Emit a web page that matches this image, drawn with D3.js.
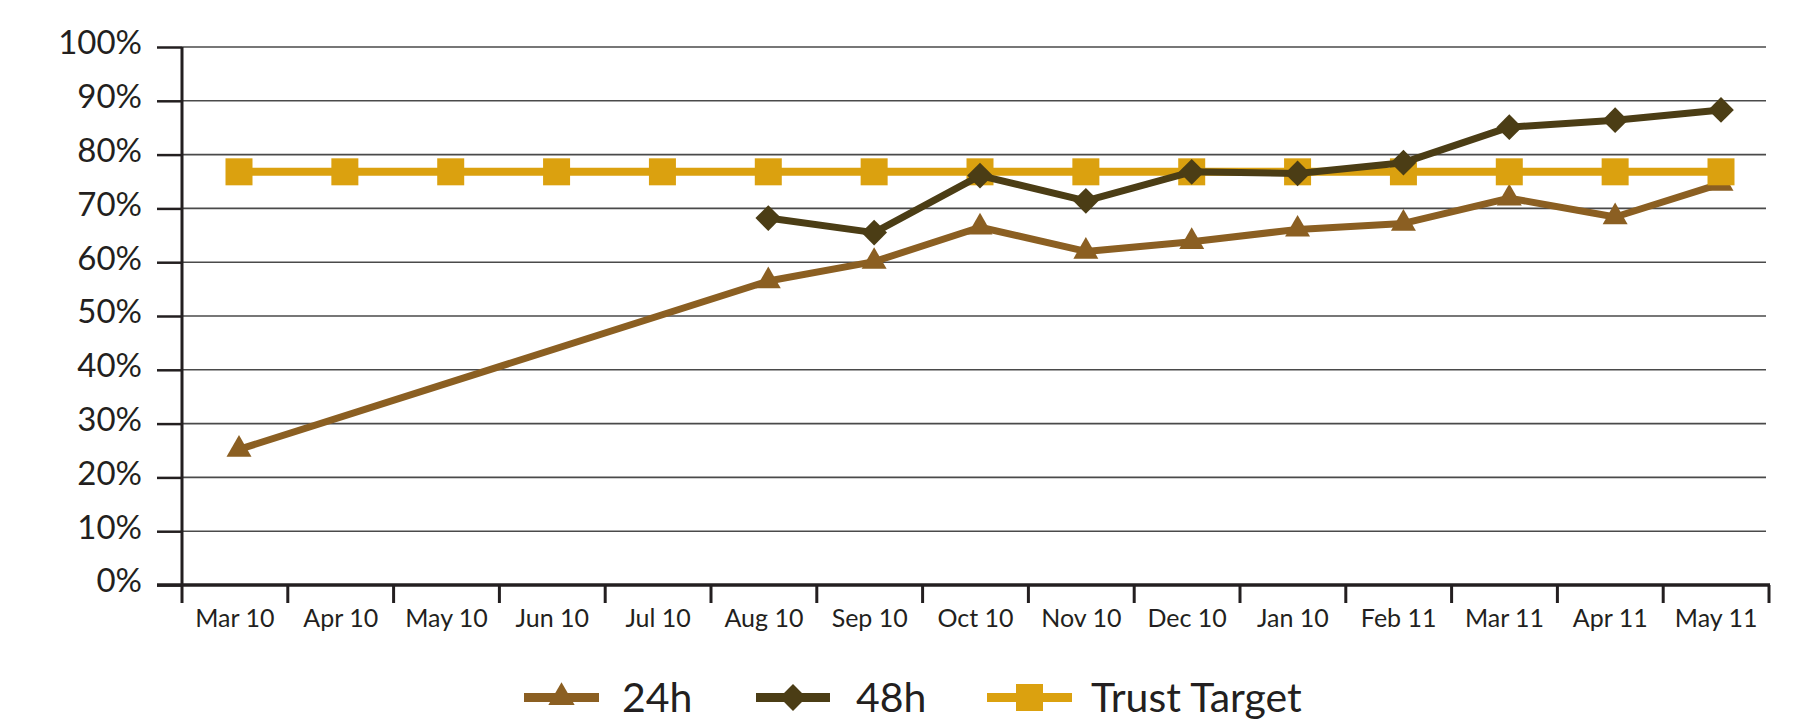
<!DOCTYPE html>
<html>
<head>
<meta charset="utf-8">
<script src="https://cdn.jsdelivr.net/npm/d3@7"></script>
<style>
  html, body { margin: 0; padding: 0; background: #fff; }
  svg { display: block; font-family: Lato, "Open Sans", sans-serif; }
</style>
</head>
<body>
<svg id="chart" width="1800" height="727"></svg>
<script>
const categories = ["Mar 10","Apr 10","May 10","Jun 10","Jul 10","Aug 10","Sep 10","Oct 10","Nov 10","Dec 10","Jan 10","Feb 11","Mar 11","Apr 11","May 11"];
const series24h = [25.2, null, null, null, null, 56.5, 60.1, 66.5, 62.0, 63.8, 66.1, 67.2, 71.9, 68.4, 74.6];
const series48h = [null, null, null, null, null, 68.2, 65.5, 76.1, 71.4, 76.8, 76.5, 78.5, 85.1, 86.4, 88.3];
const seriesTarget = [76.8, 76.8, 76.8, 76.8, 76.8, 76.8, 76.8, 76.8, 76.8, 76.8, 76.8, 76.8, 76.8, 76.8, 76.8];
const yTicks = [0, 10, 20, 30, 40, 50, 60, 70, 80, 90, 100];
const seriesNames = ["24h", "48h", "Trust Target"];

const colors = { "24h": "#8b5f22", "48h": "#4b3d15", "Trust Target": "#dba10f" };
const ink = "#231f20";

const svg = d3.select("#chart");
const mLeft = 182, mRight = 1769, mTop = 47, mBottom = 585;

const x = d3.scaleBand().domain(categories).range([mLeft, mRight]).paddingInner(0).paddingOuter(0);
// marks sit on a point scale slightly right of the band centres, as in the original
const xp = d3.scalePoint().domain(categories).range([mLeft + 57, mRight - 48]);
const y = d3.scaleLinear().domain([0, 100]).range([mBottom, mTop]);

// gridlines
svg.append("g").selectAll("line").data(yTicks.filter(d => d > 0)).join("line")
  .attr("x1", mLeft).attr("x2", 1766)
  .attr("y1", d => y(d)).attr("y2", d => y(d))
  .attr("stroke", "#4a4a4a").attr("stroke-width", 1.6);

// y axis
const yAxis = d3.axisLeft(y).tickValues(yTicks).tickSize(25).tickPadding(15).tickFormat(d => d + "%");
const gy = svg.append("g").attr("transform", `translate(${mLeft},0)`).call(yAxis);
gy.select(".domain").attr("stroke", ink).attr("stroke-width", 3).attr("d", `M0,${mTop}V${mBottom}`);
gy.selectAll(".tick line").attr("stroke", ink).attr("stroke-width", 2.5);
gy.selectAll(".tick text").attr("fill", ink).style("font-size", "33px")
  .style("font-family", "Lato, 'Open Sans', sans-serif").attr("dy", "0.21em");

// x axis
const xAxis = d3.axisBottom(x).tickSize(0).tickPadding(0);
const gx = svg.append("g").attr("transform", `translate(0,${mBottom})`).call(xAxis);
gx.select(".domain").attr("stroke", ink).attr("stroke-width", 3.5).attr("d", `M157,0H${mRight + 1}`);
gx.selectAll(".tick text").attr("fill", ink).style("font-size", "25px")
  .style("font-family", "Lato, 'Open Sans', sans-serif").attr("y", 42).attr("dy", 0);
// band boundary ticks
const bounds = categories.map(c => x(c)).concat([mRight]);
gx.append("g").selectAll("line").data(bounds).join("line")
  .attr("x1", d => d).attr("x2", d => d).attr("y1", 0).attr("y2", 18)
  .attr("stroke", ink).attr("stroke-width", 3);

// series
const lineGen = d3.line().x(d => xp(d.c)).y(d => y(d.v));
function pts(arr) { return categories.map((c, i) => ({ c, v: arr[i] })).filter(d => d.v != null); }

const triangle = d3.symbol().type(d3.symbolTriangle).size(270);
const diamond = d3.symbol().type(d3.symbolSquare).size(330);
const square = d3.symbol().type(d3.symbolSquare).size(729);

function drawSeries(arr, name, width, sym, rot) {
  const p = pts(arr);
  const g = svg.append("g");
  g.append("path").datum(p).attr("d", lineGen).attr("fill", "none")
    .attr("stroke", colors[name]).attr("stroke-width", width).attr("stroke-linejoin", "round");
  g.selectAll("path.m").data(p).join("path").attr("class", "m")
    .attr("d", sym).attr("fill", colors[name])
    .attr("transform", d => `translate(${xp(d.c)},${y(d.v)}) rotate(${rot})`);
}
drawSeries(series24h, "24h", 7, triangle, 0);
drawSeries(seriesTarget, "Trust Target", 8, square, 0);
drawSeries(series48h, "48h", 7, diamond, 45);

// legend
const legendItems = [
  { name: "24h", x0: 524, x1: 599, tx: 622, sym: d3.symbol().type(d3.symbolTriangle).size(300), rot: 0 },
  { name: "48h", x0: 756, x1: 830, tx: 856, sym: d3.symbol().type(d3.symbolSquare).size(360), rot: 45 },
  { name: "Trust Target", x0: 987, x1: 1072, tx: 1091, sym: d3.symbol().type(d3.symbolSquare).size(729), rot: 0 }
];
const ly = 697.5;
const lg = svg.append("g").selectAll("g").data(legendItems).join("g");
lg.append("line").attr("x1", d => d.x0).attr("x2", d => d.x1).attr("y1", ly).attr("y2", ly)
  .attr("stroke", d => colors[d.name]).attr("stroke-width", 9);
lg.append("path").attr("d", d => d.sym()).attr("fill", d => colors[d.name])
  .attr("transform", d => `translate(${(d.x0 + d.x1) / 2},${ly}) rotate(${d.rot})`);
lg.append("text").attr("x", d => d.tx).attr("y", 712).text(d => d.name)
  .attr("fill", ink).style("font-size", "41px");
</script>
</body>
</html>
